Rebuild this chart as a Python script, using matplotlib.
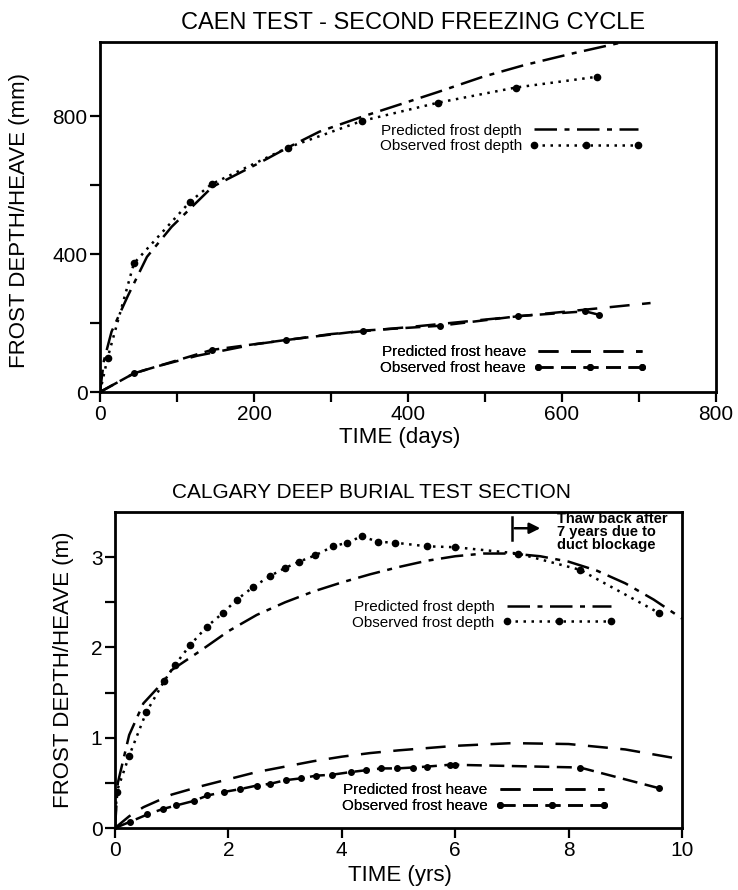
import matplotlib
matplotlib.use("Agg")
import matplotlib.pyplot as plt
from matplotlib.lines import Line2D

plt.rcParams['font.family'] = ['Liberation Sans', 'DejaVu Sans']

# --- Caen test, second freezing cycle (days, mm) ---
caen_pred_depth_days = [0, 5, 15, 36, 61, 93, 146, 210, 244, 285, 340, 391, 439, 497, 551, 614, 662, 700]
caen_pred_depth_mm = [0, 90, 175, 278, 392, 479, 595, 668, 709, 755, 798, 835, 870, 914, 948, 982, 1006, 1025]
caen_obs_depth_days = [0, 10, 44, 117, 145, 244, 340, 439, 540, 645]
caen_obs_depth_mm = [0, 100, 373, 552, 603, 709, 786, 839, 883, 914]
caen_pred_heave_days = [0, 44, 72, 126, 200, 300, 400, 500, 600, 715]
caen_pred_heave_mm = [0, 54, 73, 105, 138, 168, 188, 210, 232, 258]
caen_obs_heave_days = [0, 44, 145, 242, 342, 441, 543, 630, 648]
caen_obs_heave_mm = [0, 54, 122, 151, 178, 192, 220, 234, 224]

# --- Calgary deep burial test section (years, m) ---
cal_pred_depth_yrs = [0, 0.05, 0.25, 0.5, 0.75, 1, 1.5, 2, 2.5, 3, 3.5, 4, 4.5, 5, 5.5,
                      6, 6.5, 7, 7.5, 8, 8.5, 9, 9.5, 10]
cal_pred_depth_m = [0, 0.5, 1.03, 1.38, 1.55, 1.75, 1.96, 2.18, 2.36, 2.5, 2.62, 2.72, 2.81,
                    2.89, 2.96, 3.01, 3.04, 3.04, 3.01, 2.95, 2.85, 2.71, 2.53, 2.32]
cal_obs_depth_yrs = [0, 0.03, 0.25, 0.55, 0.87, 1.05, 1.33, 1.62, 1.9, 2.15, 2.44, 2.73, 3.0,
                     3.25, 3.53, 3.85, 4.09, 4.35, 4.64, 4.94, 5.5, 6.0, 7.11, 8.2, 9.6]
cal_obs_depth_m = [0, 0.4, 0.8, 1.28, 1.63, 1.8, 2.03, 2.23, 2.38, 2.53, 2.67, 2.79, 2.88,
                   2.95, 3.02, 3.12, 3.16, 3.23, 3.17, 3.16, 3.12, 3.11, 3.04, 2.86, 2.38]
cal_pred_heave_yrs = [0, 0.25, 0.5, 1, 1.5, 2, 2.5, 3, 3.5, 4, 4.5, 5, 6, 7, 8, 9, 10]
cal_pred_heave_m = [0, 0.13, 0.23, 0.37, 0.46, 0.54, 0.62, 0.68, 0.74, 0.79, 0.83, 0.86,
                    0.91, 0.94, 0.93, 0.87, 0.76]
cal_obs_heave_yrs = [0, 0.27, 0.57, 0.84, 1.08, 1.39, 1.63, 1.93, 2.2, 2.5, 2.74, 3.01, 3.28,
                     3.55, 3.83, 4.16, 4.43, 4.7, 4.98, 5.25, 5.5, 5.9, 6.0, 8.2, 9.6]
cal_obs_heave_m = [0, 0.07, 0.15, 0.21, 0.25, 0.3, 0.36, 0.4, 0.43, 0.47, 0.49, 0.53, 0.55,
                   0.58, 0.59, 0.62, 0.64, 0.66, 0.66, 0.67, 0.68, 0.7, 0.7, 0.67, 0.44]

# line styles
LW = 1.8
PRED_DEPTH = dict(color='black', lw=LW, ls=(0, (9, 3, 2, 3)))
OBS_DEPTH = dict(color='black', lw=LW, ls=(0, (1, 2.2)), marker='o', ms=4.5)
PRED_HEAVE = dict(color='black', lw=LW, ls=(0, (8, 5)))
OBS_HEAVE = dict(color='black', lw=LW, ls=(0, (6, 3)), marker='o', ms=4)

W, H = 738, 890
fig = plt.figure(figsize=(W / 100, H / 100), dpi=100)


def box(l, t, r, b):
    return [l / W, 1 - b / H, (r - l) / W, (b - t) / H]


def style_axes(ax):
    for s in ax.spines.values():
        s.set_linewidth(2)
    ax.tick_params(which='both', direction='out', width=1.6, labelsize=15, pad=2)
    ax.tick_params(which='major', length=7)
    ax.tick_params(which='minor', length=7)


def add_legend(ax, handles, labels, x, y):
    leg = ax.legend(handles, labels, loc='center right', bbox_to_anchor=(x, y),
                    bbox_transform=ax.transData, markerfirst=False, frameon=False,
                    handlelength=7.4, handletextpad=0.5, labelspacing=0.12,
                    borderpad=0, borderaxespad=0, numpoints=3, fontsize=11)
    ax.add_artist(leg)


# ---------------- top panel ----------------
ax1 = fig.add_axes(box(100, 42, 716, 392))
ax1.plot(caen_pred_depth_days, caen_pred_depth_mm, **PRED_DEPTH)
ax1.plot(caen_obs_depth_days, caen_obs_depth_mm, **OBS_DEPTH)
ax1.plot(caen_pred_heave_days, caen_pred_heave_mm, **PRED_HEAVE)
ax1.plot(caen_obs_heave_days, caen_obs_heave_mm, **OBS_HEAVE)
ax1.set_xlim(0, 800)
ax1.set_ylim(0, 1015)
ax1.set_xticks([0, 200, 400, 600, 800])
ax1.set_xticks([100, 300, 500, 700], minor=True)
ax1.set_yticks([0, 400, 800])
ax1.set_yticks([200, 600], minor=True)
style_axes(ax1)

add_legend(ax1, [Line2D([], [], **PRED_DEPTH), Line2D([], [], **OBS_DEPTH)],
           ['Predicted frost depth', 'Observed frost depth'], 705, 735)
add_legend(ax1, [Line2D([], [], **PRED_HEAVE), Line2D([], [], **OBS_HEAVE)],
           ['Predicted frost heave', 'Observed frost heave'], 710, 92)

fig.text(413 / W, 1 - 23 / H, 'CAEN TEST - SECOND FREEZING CYCLE',
         ha='center', va='center', fontsize=17)
fig.text(400 / W, 1 - 437 / H, 'TIME (days)', ha='center', va='center', fontsize=16)
fig.text(20 / W, 1 - 220 / H, 'FROST DEPTH/HEAVE (mm)', ha='center', va='center',
         rotation=90, fontsize=16)

# ---------------- bottom panel ----------------
ax2 = fig.add_axes(box(115, 512, 682, 828))
ax2.plot(cal_pred_depth_yrs, cal_pred_depth_m, **PRED_DEPTH)
ax2.plot(cal_obs_depth_yrs, cal_obs_depth_m, **OBS_DEPTH)
ax2.plot(cal_pred_heave_yrs, cal_pred_heave_m, **PRED_HEAVE)
ax2.plot(cal_obs_heave_yrs, cal_obs_heave_m, **OBS_HEAVE)
ax2.set_xlim(0, 10)
ax2.set_ylim(0, 3.5)
ax2.set_xticks([0, 2, 4, 6, 8, 10])
ax2.set_yticks([0, 1, 2, 3])
ax2.set_yticks([0.5, 1.5, 2.5], minor=True)
style_axes(ax2)

add_legend(ax2, [Line2D([], [], **PRED_DEPTH), Line2D([], [], **OBS_DEPTH)],
           ['Predicted frost depth', 'Observed frost depth'], 8.82, 2.36)
add_legend(ax2, [Line2D([], [], **PRED_HEAVE), Line2D([], [], **OBS_HEAVE)],
           ['Predicted frost heave', 'Observed frost heave'], 8.7, 0.33)

# thaw-back note
ax2.plot([7, 7], [3.19, 3.44], color='black', lw=1.8)
ax2.annotate('', xy=(7.55, 3.32), xytext=(7.0, 3.32),
             arrowprops=dict(arrowstyle='-|>', color='black', lw=1.8, mutation_scale=16))
ax2.text(7.8, 3.5, 'Thaw back after\n7 years due to\nduct blockage', ha='left', va='top',
         fontsize=10.5, fontweight='bold', linespacing=0.92)

fig.text(372 / W, 1 - 492 / H, 'CALGARY DEEP BURIAL TEST SECTION',
         ha='center', va='center', fontsize=15)
fig.text(400 / W, 1 - 876 / H, 'TIME (yrs)', ha='center', va='center', fontsize=16)
fig.text(64 / W, 1 - 670 / H, 'FROST DEPTH/HEAVE (m)', ha='center', va='center',
         rotation=90, fontsize=16)

fig.savefig('out.png', dpi=100)
